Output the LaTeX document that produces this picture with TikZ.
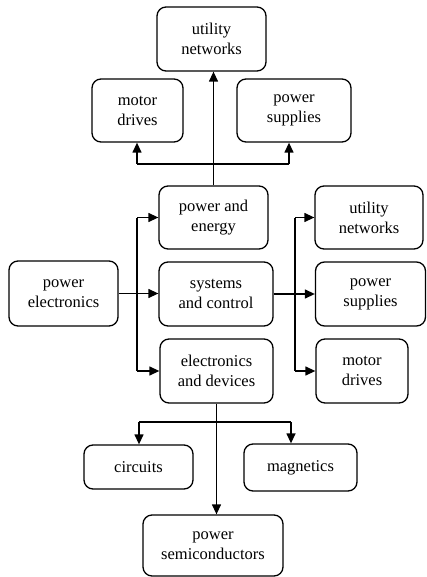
\documentclass[tikz,border=0pt]{standalone}
\usepackage{fontspec}
\setmainfont{Liberation Serif}
\usetikzlibrary{arrows.meta}
\begin{document}
\begin{tikzpicture}[x=1pt,y=-1pt,
  box/.style={draw, line width=1.3pt, rounded corners=9pt, align=center,
    font=\fontsize{16.5}{20}\selectfont, inner sep=0pt},
  arr/.style={-{Triangle[length=10pt,width=9pt]}, line width=1.3pt},
  ln/.style={line width=1.3pt}]
\useasboundingbox (0,0) rectangle (427,577);
% top group
\node[box, minimum width=109pt, minimum height=64pt] (un1) at (211.5,39) {utility\\networks};
\node[box, minimum width=91pt, minimum height=63pt] (md1) at (137.5,110.5) {motor\\drives};
\node[box, minimum width=114pt, minimum height=63pt] (ps1) at (294,110.5) {power\\supplies};
% middle
\node[box, minimum width=109pt, minimum height=63pt] (pe) at (213.5,217.5) {power and\\energy};
\node[box, minimum width=114pt, minimum height=64pt] (sc) at (216,294) {systems\\and control};
\node[box, minimum width=113pt, minimum height=64pt] (ed) at (216.5,371) {electronics\\and devices};
\node[box, minimum width=109pt, minimum height=65pt] (pel) at (63.5,293.5) {power\\electronics};
% right
\node[box, minimum width=108pt, minimum height=63pt] (un2) at (369,217.5) {utility\\networks};
\node[box, minimum width=110pt, minimum height=64pt] (ps2) at (370.5,294) {power\\supplies};
\node[box, minimum width=92pt, minimum height=64pt] (md2) at (362,371) {motor\\drives};
% bottom
\node[box, minimum width=109pt, minimum height=44pt] (ci) at (138.5,467) {circuits};
\node[box, minimum width=113pt, minimum height=47pt] (mg) at (300.5,467.5) {magnetics};
\node[box, minimum width=140pt, minimum height=61pt] (psm) at (213,545.5) {power\\semiconductors};
% coordinates
\coordinate (tl) at (137,164);
\coordinate (tr) at (289,164);
\coordinate (lt) at (137,217.5);
\coordinate (lb) at (137,371);
\coordinate (rt) at (295,217.5);
\coordinate (rb) at (295,371);
\coordinate (bl) at (139,422);
\coordinate (br) at (291,422);
% top connectors
\draw[arr] (pe.north) -- (pe.north |- un1.south);
\draw[ln] (tl) -- (tr);
\draw[arr] (tl) -- (tl |- md1.south);
\draw[arr] (tr) -- (tr |- ps1.south);
% left connectors
\draw[arr] (pel.east) -- (sc.west |- pel.east);
\draw[ln] (lt) -- (lb);
\draw[arr] (lt) -- (pe.west);
\draw[arr] (lb) -- (ed.west);
% right connectors
\draw[arr] (sc.east) -- (ps2.west);
\draw[ln] (rt) -- (rb);
\draw[arr] (rt) -- (un2.west);
\draw[arr] (rb) -- (md2.west);
% bottom connectors
\draw[arr] (ed.south) -- (ed.south |- psm.north);
\draw[ln] (bl) -- (br);
\draw[arr] (bl) -- (bl |- ci.north);
\draw[arr] (br) -- (br |- mg.north);
\end{tikzpicture}
\end{document}
